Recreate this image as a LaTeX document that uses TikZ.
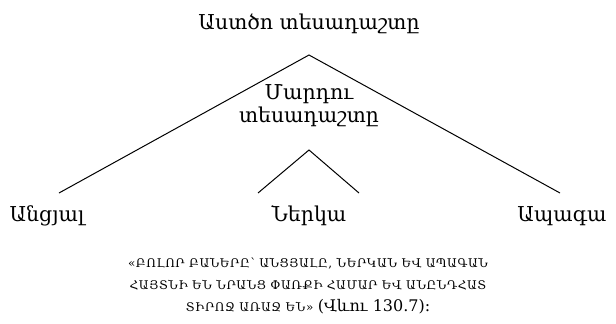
\documentclass[tikz,border=0pt]{standalone}
\usepackage{fontspec}
\setmainfont{DejaVu Serif}
\newfontfamily\armq[LetterSpace=5]{DejaVu Serif}
\tikzset{
  lbl/.style={font=\fontsize{20.5}{24}\selectfont, inner sep=0pt, anchor=base},
  quote/.style={font=\armq\fontsize{12}{22}\selectfont, inner sep=0pt, anchor=base},
  ln/.style={draw=black, line width=1pt}
}
\begin{document}
\begin{tikzpicture}[x=1pt,y=-1pt]
\useasboundingbox (0,0) rectangle (616,324);
\node[lbl] (god) at (309,29) {Աստծո տեսադաշտը};
\coordinate (apex) at (309,55);
\coordinate (lend) at (59,193);
\coordinate (rend) at (560,193);
\node[lbl] (man) at (309,99) {Մարդու};
\node[lbl] (man2) at (309,122) {տեսադաշտը};
\coordinate (sapex) at (309,150);
\coordinate (slend) at (258,193);
\coordinate (srend) at (359,193);
\node[lbl] (past) at (47,221) {Անցյալ};
\node[lbl] (pres) at (309,221) {Ներկա};
\node[lbl] (fut) at (562,221) {Ապագա};
\draw[ln] (lend) -- (apex) -- (rend);
\draw[ln] (slend) -- (sapex) -- (srend);
\node[quote] (q1) at (308,267) {«ԲՈԼՈՐ ԲԱՆԵՐԸ՝ ԱՆՑՅԱԼԸ, ՆԵՐԿԱՆ ԵՎ ԱՊԱԳԱՆ};
\node[quote] (q2) at (308,289) {ՀԱՅՏՆԻ ԵՆ ՆՐԱՆՑ ՓԱՌՔԻ ՀԱՄԱՐ ԵՎ ԱՆԸՆԴՀԱՏ};
\node[quote] (q3) at (308,311) {ՏԻՐՈՋ ԱՌԱՋ ԵՆ» {\rmfamily\fontsize{16}{22}\selectfont(Վևու 130.7):}};
\end{tikzpicture}
\end{document}
